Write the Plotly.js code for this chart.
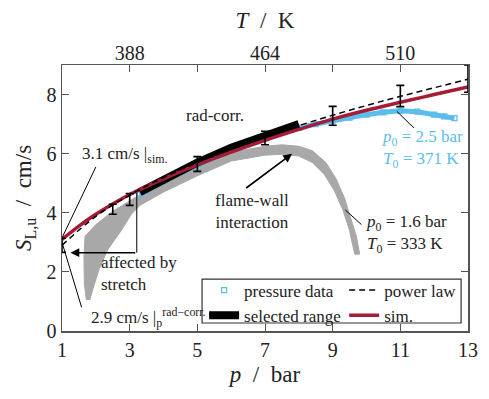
<!DOCTYPE html>
<html><head><meta charset="utf-8">
<script src="https://cdn.plot.ly/plotly-3.0.1.min.js"></script>
<style>html,body{margin:0;padding:0;background:#fff}</style>
</head><body><div id="chart" style="width:489px;height:399px"></div>
<script>
// ---- data ----
// power law (radiation corrected), dashed
const powP = [1,2,3,4,5,6,7,8,9,10,11,12,13];
const powS = [2.90,3.88,4.60,5.19,5.70,6.16,6.57,6.95,7.30,7.63,7.94,8.23,8.52];
// power-law error bars
const errP = [1,2.5,3,5,7,9,11,13];
const errS = [2.90,4.12,4.45,5.65,6.53,7.28,7.95,8.54];
const errE = [0.24,0.17,0.20,0.25,0.23,0.32,0.36,0.46];
// simulation
const simP = [1,1.5,2,3,4,5,6,7,8,9,10,11,12,13];
const simS = [3.10,3.55,3.95,4.62,5.15,5.62,6.05,6.45,6.82,7.17,7.47,7.74,8.00,8.26];
// pressure data p0 = 2.5 bar, T0 = 371 K
const blueP = [3.3,3.5,4,4.5,5,5.5,6,6.5,7,7.5,8,8.5,9,9.5,10,10.5,11,11.5,12,12.3,12.6];
const blueS = [4.62,4.75,5.08,5.36,5.62,5.88,6.10,6.32,6.52,6.72,6.88,7.00,7.12,7.22,7.32,7.40,7.45,7.42,7.32,7.26,7.20];
// pressure data p0 = 1.6 bar, T0 = 333 K (outline of the point cloud)
const grayP = [1.72,1.66,1.65,1.68,2.0,2.5,3.0,4.0,5.0,6.0,7.0,7.5,8.0,8.4,8.8,9.1,9.35,9.55,9.7,9.8,
               9.65,9.5,9.3,9.05,8.75,8.4,8.0,7.5,7.0,6.0,5.0,4.0,3.3,3.05,2.75,2.35,2.1,1.92,1.82];
const grayS = [1.05,1.6,2.5,3.2,3.6,4.05,4.40,5.10,5.60,6.05,6.25,6.30,6.25,6.10,5.70,5.15,4.50,3.80,3.20,2.60,
               2.60,3.40,4.10,4.75,5.30,5.70,5.92,5.98,5.95,5.75,5.25,4.70,4.25,3.95,3.40,2.75,2.10,1.45,1.05];
// selected range
const selP = [3.3,4,5,6,7,8];
const selS = [4.70,5.12,5.70,6.20,6.62,7.00];
// axis ticks
const xTicks = [1,3,5,7,9,11,13];
const yTicks = [0,2,4,6,8];
const tTickPos = [3,7,11];
const tTickText = ['388','464','510'];

const BLUE = '#5BBDEB';
const RED = '#A51C36';
const GRAY = '#A8A8A8';
const TXT = '#222222';
const FAM = 'Liberation Serif';

const traces = [
  {x: grayP, y: grayS, mode: 'lines', fill: 'toself', fillcolor: GRAY,
   line: {color: GRAY, width: 1}, showlegend: false, hoverinfo: 'skip'},
  {x: blueP, y: blueS, mode: 'lines', line: {color: BLUE, width: 5}, showlegend: false},
  {x: blueP, y: blueS, mode: 'markers', name: 'pressure data', legend: 'legend',
   marker: {symbol: 'square-open', size: 5, color: BLUE, line: {width: 1.2}}},
  {x: selP, y: selS, mode: 'lines', name: 'selected range', legend: 'legend',
   line: {color: '#000', width: 8}},
  {x: simP, y: simS, mode: 'lines', name: 'sim.', legend: 'legend2',
   line: {color: RED, width: 3.5, shape: 'spline'}},
  {x: powP, y: powS, mode: 'lines', name: 'power law', legend: 'legend2',
   line: {color: '#000', width: 1.5, dash: '6px,4px', shape: 'spline'}},
  {x: errP, y: errS, mode: 'markers', marker: {size: 1, color: '#000'}, showlegend: false,
   cliponaxis: false,
   error_y: {type: 'data', array: errE, visible: true, color: '#000', thickness: 1.6, width: 4}},
  {x: [], y: [], xaxis: 'x2', showlegend: false}
];

function axis(extra) {
  return Object.assign({
    showline: true, linecolor: '#555', linewidth: 1.5, showgrid: false, zeroline: false,
    ticks: 'inside', ticklen: 7, tickwidth: 1, tickcolor: '#555', mirror: 'ticks',
    tickfont: {family: FAM, size: 20, color: TXT}
  }, extra);
}
function ann(x, y, text, opts) {
  return Object.assign({x: x, y: y, xref: 'x', yref: 'y', text: text, showarrow: false,
    font: {family: FAM, size: 17, color: TXT}}, opts || {});
}
function seg(x0, y0, x1, y1) {
  return {type: 'line', xref: 'x', yref: 'y', x0: x0, y0: y0, x1: x1, y1: y1,
    line: {color: '#000', width: 1}};
}

const layout = {
  width: 489, height: 399,
  margin: {l: 62, r: 21, t: 65, b: 68},
  paper_bgcolor: '#fff', plot_bgcolor: '#fff',
  xaxis: axis({range: [1, 13], tickvals: xTicks,
    title: {text: '<i>p</i>  /  bar', font: {family: FAM, size: 23, color: TXT}, standoff: 6}}),
  xaxis2: {overlaying: 'x', side: 'top', range: [1, 13], tickvals: tTickPos, ticktext: tTickText,
    ticks: '', showline: false, showgrid: false, zeroline: false,
    tickfont: {family: FAM, size: 20, color: TXT},
    title: {text: '<i>T</i>  /  K', font: {family: FAM, size: 23, color: TXT}, standoff: 6}},
  yaxis: axis({range: [0, 9], tickvals: yTicks,
    title: {text: '<i>S</i><sub>L,u</sub>  /  cm/s', font: {family: FAM, size: 23, color: TXT}, standoff: 8}}),
  legend: {x: 0.35, y: 0.22, xanchor: 'left', yanchor: 'top', bgcolor: 'rgba(0,0,0,0)',
    font: {family: FAM, size: 17, color: TXT}, itemwidth: 30, tracegroupgap: 0},
  legend2: {x: 0.695, y: 0.22, xanchor: 'left', yanchor: 'top', bgcolor: 'rgba(0,0,0,0)',
    font: {family: FAM, size: 17, color: TXT}, itemwidth: 30, tracegroupgap: 0, traceorder: 'reversed'},
  shapes: [
    {type: 'rect', xref: 'paper', yref: 'paper', x0: 0.345, x1: 0.983, y0: 0.03, y1: 0.195,
     line: {color: '#333', width: 1.2}, fillcolor: 'rgba(0,0,0,0)'},
    seg(1, 3.15, 2.0, 5.55),
    seg(1, 3.0, 1.58, 0.8),
    seg(3.21, 4.67, 3.21, 2.65),
    seg(9.37, 4.1, 9.85, 3.6),
    seg(10.9, 7.43, 11.4, 6.87)
  ],
  annotations: [
    ann(2.86, 5.97, '3.1 cm/s |<sub>sim.</sub>'),
    ann(3.55, 0.45, '2.9 cm/s |<sub>p</sub><sup>rad−corr.</sup>'),
    ann(2.1, 1.95, 'affected by<br>stretch', {xanchor: 'left', align: 'left'}),
    ann(6.62, 4.03, 'flame-wall<br>interaction'),
    ann(5.53, 7.3, 'rad-corr.'),
    ann(9.93, 3.29, '<i>p</i><sub>0</sub> = 1.6 bar<br><i>T</i><sub>0</sub> = 333 K', {xanchor: 'left', align: 'left'}),
    ann(10.4, 6.17, '<i>p</i><sub>0</sub> = 2.5 bar<br><i>T</i><sub>0</sub> = 371 K',
      {xanchor: 'left', align: 'left', font: {family: FAM, size: 17, color: BLUE}}),
    {x: 1.25, y: 2.65, ax: 3.21, ay: 2.65, xref: 'x', yref: 'y', axref: 'x', ayref: 'y',
     text: '', showarrow: true, arrowhead: 2, arrowsize: 1.1, arrowwidth: 1.6, arrowcolor: '#000'},
    {x: 7.8, y: 6.0, ax: 6.4, ay: 4.8, xref: 'x', yref: 'y', axref: 'x', ayref: 'y',
     text: '', showarrow: true, arrowhead: 2, arrowsize: 1.1, arrowwidth: 1.6, arrowcolor: '#000'}
  ]
};

Plotly.newPlot('chart', traces, layout, {displayModeBar: false, staticPlot: true});
</script>
</body></html>
